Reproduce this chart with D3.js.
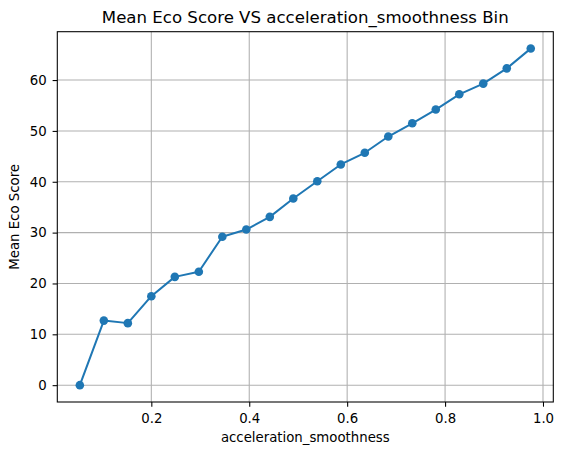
<!DOCTYPE html>
<html>
<head>
<meta charset="utf-8">
<script src="https://cdn.jsdelivr.net/npm/d3@7"></script>
<style>
  html, body { margin: 0; padding: 0; background: #fff; }
  svg { display: block; font-family: "DejaVu Sans", sans-serif; }
</style>
</head>
<body>
<script>
const binCenters = [0.054, 0.103, 0.152, 0.200, 0.248, 0.297, 0.345, 0.394, 0.442, 0.490,
                    0.539, 0.587, 0.636, 0.684, 0.733, 0.781, 0.829, 0.878, 0.926, 0.975];
const meanScores = [0.0, 12.7, 12.2, 17.5, 21.3, 22.3, 29.2, 30.6, 33.1, 36.7,
                    40.1, 43.4, 45.7, 48.9, 51.5, 54.2, 57.2, 59.3, 62.3, 66.2];
const xTicks = [0.2, 0.4, 0.6, 0.8, 1.0];
const yTicks = [0, 10, 20, 30, 40, 50, 60];
const titleText = "Mean Eco Score VS acceleration_smoothness Bin";
const xLabel = "acceleration_smoothness";
const yLabel = "Mean Eco Score";

const W = 563, H = 455;
const m = { left: 57.3, right: 563 - 553.3, top: 31.7, bottom: 455 - 402 };
const iw = W - m.left - m.right, ih = H - m.top - m.bottom;

const xmin = d3.min(binCenters), xmax = d3.max(binCenters);
const ymin = d3.min(meanScores), ymax = d3.max(meanScores);
const xp = (xmax - xmin) * 0.05, yp = (ymax - ymin) * 0.05;

const x = d3.scaleLinear().domain([xmin - xp, xmax + xp]).range([0, iw]);
const y = d3.scaleLinear().domain([ymin - yp, ymax + yp]).range([ih, 0]);

const svg = d3.select("body").append("svg").attr("width", W).attr("height", H);
const g = svg.append("g").attr("transform", `translate(${m.left},${m.top})`);

// grid
g.append("g").selectAll("line").data(xTicks).join("line")
  .attr("x1", d => x(d)).attr("x2", d => x(d)).attr("y1", 0).attr("y2", ih)
  .attr("stroke", "#b0b0b0").attr("stroke-width", 1.07);
g.append("g").selectAll("line").data(yTicks).join("line")
  .attr("y1", d => y(d)).attr("y2", d => y(d)).attr("x1", 0).attr("x2", iw)
  .attr("stroke", "#b0b0b0").attr("stroke-width", 1.07);

// axes
const xAxis = g.append("g").attr("transform", `translate(0,${ih})`)
  .call(d3.axisBottom(x).tickValues(xTicks).tickFormat(d3.format(".1f")).tickSizeOuter(0).tickSize(4.7).tickPadding(7.2));
const yAxis = g.append("g")
  .call(d3.axisLeft(y).tickValues(yTicks).tickFormat(d3.format("d")).tickSizeOuter(0).tickSize(4.7).tickPadding(6));
[xAxis, yAxis].forEach(a => {
  a.select(".domain").remove();
  a.selectAll("line").attr("stroke", "#000").attr("stroke-width", 1.07);
  a.selectAll("text").attr("fill", "#000").style("font-size", "13.3px").style("font-family", "DejaVu Sans, sans-serif");
});

// spines
g.append("rect").attr("x", 0).attr("y", 0).attr("width", iw).attr("height", ih)
  .attr("fill", "none").attr("stroke", "#000").attr("stroke-width", 1.07);

// line
const pts = binCenters.map((d, i) => [d, meanScores[i]]);
g.append("path").datum(pts)
  .attr("fill", "none").attr("stroke", "#1f77b4").attr("stroke-width", 2)
  .attr("stroke-linejoin", "round").attr("stroke-linecap", "square")
  .attr("d", d3.line().x(d => x(d[0])).y(d => y(d[1])));

g.append("g").selectAll("circle").data(pts).join("circle")
  .attr("cx", d => x(d[0])).attr("cy", d => y(d[1])).attr("r", 4.3)
  .attr("fill", "#1f77b4");

// title & labels
svg.append("text").attr("x", m.left + iw / 2).attr("y", 23.3)
  .attr("text-anchor", "middle").style("font-size", "16.6px").text(titleText);
svg.append("text").attr("x", m.left + iw / 2).attr("y", 442)
  .attr("text-anchor", "middle").style("font-size", "13.3px").text(xLabel);
svg.append("text").attr("transform", `translate(19,${m.top + ih / 2}) rotate(-90)`)
  .attr("text-anchor", "middle").style("font-size", "13.3px").text(yLabel);
</script>
</body>
</html>
